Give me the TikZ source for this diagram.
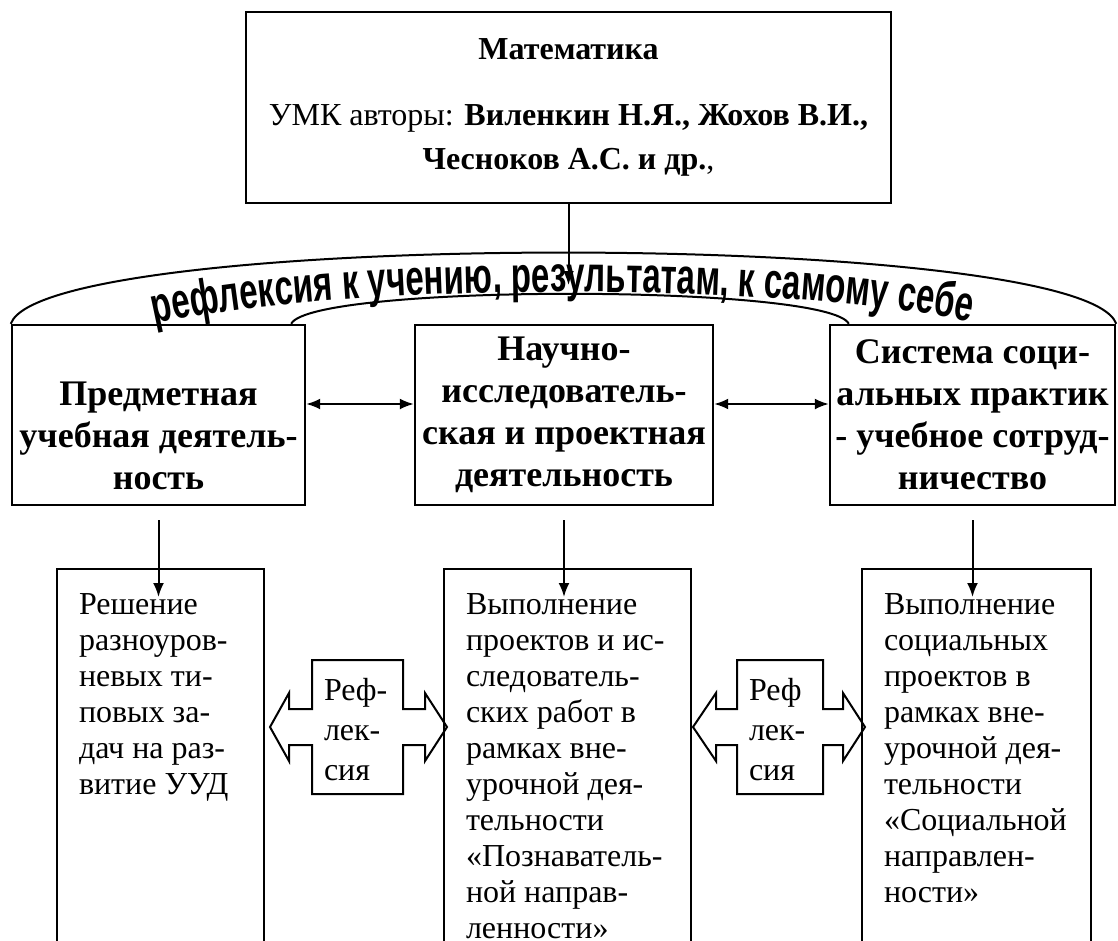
\documentclass[tikz,border=0pt]{standalone}
\usepackage{fontspec}
\setmainfont{Liberation Serif}
\newfontfamily\arcfont[FakeStretch=0.66]{Liberation Sans}
\usetikzlibrary{arrows.meta,decorations.text}

\begin{document}
\begin{tikzpicture}[x=1pt, y=-1pt, >={Latex[length=14pt,width=11pt]}, line width=2pt,
  topbox/.style={draw, line width=2.4pt, minimum width=645pt, minimum height=191pt,
    align=center, font=\fontsize{32}{44}\selectfont},
  activity/.style={draw, line width=2.4pt, minimum width=#1, minimum height=180pt,
    inner sep=0pt, align=center, font=\bfseries\fontsize{36}{42}\selectfont},
  task/.style={anchor=north west, align=left, inner xsep=21pt, inner ysep=24pt,
    font=\fontsize{32}{36}\selectfont},
  refl/.style={anchor=west, align=left, inner xsep=11pt, font=\fontsize{32}{40}\selectfont}]
  \useasboundingbox (0,0) rectangle (1118,940);
  \clip (0,0) rectangle (1118,940);

  % top box
  \node [topbox] (math) at (568.5,107.5) {\textbf{Математика}\\[22pt]
    УМК авторы: \textbf{Виленкин Н.Я., Жохов В.И.,}\\ \textbf{Чесноков А.С. и др.},};
  \coordinate (arcmid) at (568.5,285);

  % kinds of activity
  \node [activity=293pt] (subj) at (158.5,415) {\vphantom{Н}\\Предметная\\учебная деятель-\\ность};
  \node [activity=298pt] (res) at (564,415) {Научно-\\исследователь-\\ская и проектная\\деятельность};
  \node [activity=285pt] (soc) at (972.5,415) {Система соци-\\альных практик\\- учебное сотруд-\\ничество};

  % tasks (boxes are open at the bottom)
  \draw (57,960) |- (264,569) -- (264,960);
  \draw (444,960) |- (691,569) -- (691,960);
  \draw (862,960) |- (1091,569) -- (1091,960);
  \node [task] (solve) at (57,569) {Решение\\разноуров-\\невых ти-\\повых за-\\дач на раз-\\витие УУД};
  \node [task] (proj) at (444,569) {Выполнение\\проектов и ис-\\следователь-\\ских работ в\\рамках вне-\\урочной дея-\\тельности\\«Познаватель-\\ной направ-\\ленности»};
  \node [task] (socproj) at (862,569) {Выполнение\\социальных\\проектов в\\рамках вне-\\урочной дея-\\тельности\\«Социальной\\направлен-\\ности»};

  % arcs over the activities
  \draw (subj.north west) .. controls +(33,-95) and +(-33,-95) .. (soc.north east);
  \draw ([xshift=-15pt]subj.north east) .. controls +(20,-40) and +(-20,-40) .. ([xshift=20pt]soc.north west);
  \path [decorate, decoration={text along path, text align=center,
    text={|\arcfont\bfseries\fontsize{50}{50}\selectfont|рефлексия к учению, результатам, к самому себе}}]
    (115,335) .. controls (280,278) and (840,278) .. (1010,332);

  \draw [->] (math.south) -- (arcmid);
  \draw [<->] ([yshift=11pt]subj.east) -- ([yshift=11pt]res.west);
  \draw [<->] ([yshift=11pt]res.east) -- ([yshift=11pt]soc.west);
  \draw [->, shorten <=14pt, shorten >=-28pt] (subj.south) -- (subj.south |- solve.north);
  \draw [->, shorten <=14pt, shorten >=-28pt] (res.south) -- (res.south |- proj.north);
  \draw [->, shorten <=14pt, shorten >=-28pt] (soc.south) -- (soc.south |- socproj.north);

  % reflection block arrows
  \draw (270,727) -- (289,693) -- (289,709) -- (312,709) -- (312,660) -- (403,660) -- (403,709)
    -- (425,709) -- (425,693) -- (447,727) -- (425,761) -- (425,745) -- (403,745) -- (403,794)
    -- (312,794) -- (312,745) -- (289,745) -- (289,761) -- cycle;
  \node [refl] (refl1) at (312,730) {Реф-\\лек-\\сия};
  \draw (693,727) -- (716,693) -- (716,709) -- (737,709) -- (737,660) -- (823,660) -- (823,709)
    -- (843,709) -- (843,693) -- (865,727) -- (843,761) -- (843,745) -- (823,745) -- (823,794)
    -- (737,794) -- (737,745) -- (716,745) -- (716,761) -- cycle;
  \node [refl] (refl2) at (737,730) {Реф\\лек-\\сия};
\end{tikzpicture}
\end{document}
